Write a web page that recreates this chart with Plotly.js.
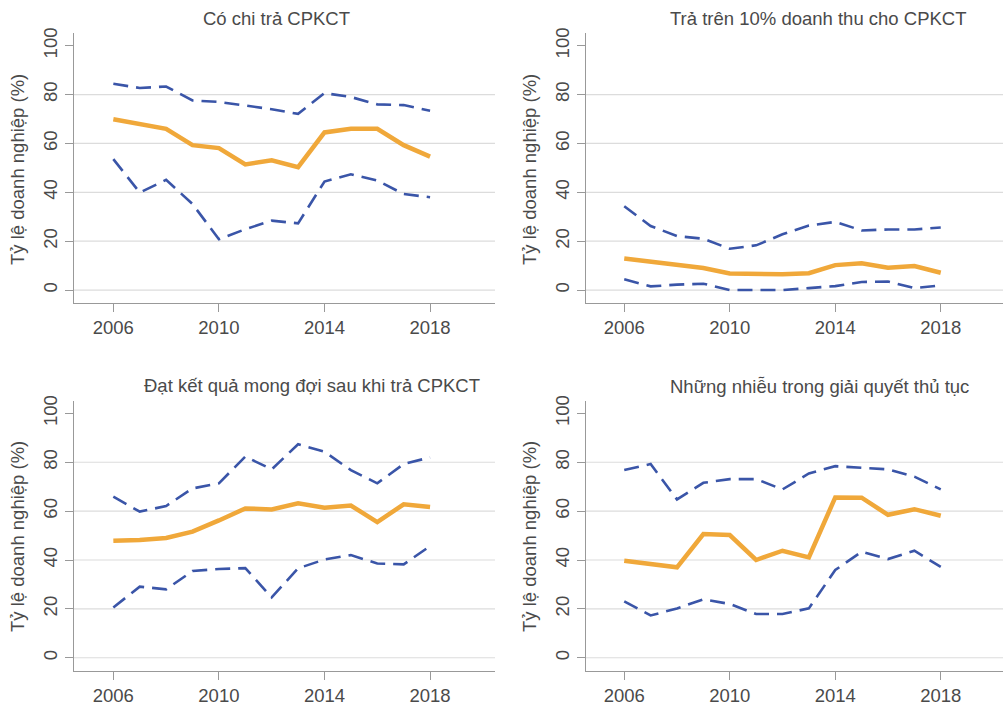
<!DOCTYPE html>
<html>
<head>
<meta charset="utf-8">
<script src="https://cdn.plot.ly/plotly-3.0.1.min.js"></script>
<style>html,body{margin:0;padding:0;background:#fff;}#chart{width:1003px;height:706px;}</style>
</head>
<body>
<div id="chart"></div>
<script>
const years = [2006,2007,2008,2009,2010,2011,2012,2013,2014,2015,2016,2017,2018];

const titles = [
  "Có chi trả CPKCT",
  "Trả trên 10% doanh thu cho CPKCT",
  "Đạt kết quả mong đợi sau khi trả CPKCT",
  "Những nhiễu trong giải quyết thủ tục"
];
const yTitle = "Tỷ lệ doanh nghiệp (%)";
const yTicks = [0,20,40,60,80,100];
const gridVals = [0,20,40,60,80];
const xTicks = [2006,2010,2014,2018];

// Panel 1: Có chi trả CPKCT
const p1Mean  = [69.9,68.0,66.0,59.3,58.1,51.4,53.1,50.3,64.5,66.0,66.0,59.3,54.6];
const p1Upper = [84.4,82.7,83.3,77.6,77.0,75.5,74.0,72.1,80.6,79.0,76.0,75.7,73.4];
const p1Lower = [53.6,39.9,45.1,35.2,20.8,24.9,28.4,27.3,44.4,47.4,44.8,39.3,38.0];

// Panel 2: Trả trên 10% doanh thu cho CPKCT
const p2Mean  = [12.9,11.6,9.9,9.0,6.8,6.7,6.5,6.9,10.2,11.0,9.1,9.8,7.1];
const p2Upper = [34.3,26.2,22.1,21.0,16.9,18.3,22.8,26.4,27.9,24.4,24.8,24.8,25.6];
const p2Lower = [4.4,1.5,2.2,2.6,0.0,0.0,0.0,0.8,1.6,3.3,3.5,0.8,1.9];

// Panel 3: Đạt kết quả mong đợi sau khi trả CPKCT
const p3Mean  = [47.9,48.2,49.0,51.6,56.2,61.1,60.7,63.2,61.4,62.3,55.5,62.8,61.7];
const p3Upper = [65.9,59.8,62.1,69.3,71.4,82.3,77.1,87.4,84.3,76.8,71.4,79.3,82.0];
const p3Lower = [20.6,29.1,28.0,35.5,36.3,36.7,24.7,36.6,40.2,42.0,38.6,38.2,45.7];

// Panel 4: Những nhiễu trong giải quyết thủ tục
const p4Mean  = [39.7,38.2,37.0,50.6,50.2,40.0,43.8,41.1,65.6,65.5,58.5,60.8,58.1];
const p4Upper = [76.8,79.3,64.8,71.6,73.1,73.1,68.9,75.4,78.4,77.8,77.1,74.1,68.9];
const p4Lower = [23.1,17.3,20.2,23.9,22.0,17.9,17.9,20.2,35.9,43.4,40.4,43.8,37.2];

const panels = [
  {mean:p1Mean, upper:p1Upper, lower:p1Lower},
  {mean:p2Mean, upper:p2Upper, lower:p2Lower},
  {mean:p3Mean, upper:p3Upper, lower:p3Lower},
  {mean:p4Mean, upper:p4Upper, lower:p4Lower}
];

const W = 1003, H = 706;
const ORANGE = "#f0a83a";
const BLUE = "#3a55a8";
const TEXT = "#4a4a4a";
const FONT = "Liberation Sans, Arial, sans-serif";
const FS = 18.5;

// layout geometry (pixels)
const geo = [
  {l:74,  r:495,  t:33,    b:303,   xr:[2004.51,2020.46], tx:276, ty:18,  ytx:17,  yty:170},
  {l:586, r:1003, t:33,    b:303,   xr:[2004.55,2020.36], tx:818, ty:18,  ytx:529, yty:170},
  {l:74,  r:495,  t:400.7, b:670.7, xr:[2004.51,2020.46], tx:312, ty:385, ytx:17,  yty:537},
  {l:586, r:1003, t:400.7, b:670.7, xr:[2004.55,2020.36], tx:819, ty:386, ytx:529, yty:537}
];
const yRange = [-5.3, 105.2];

const traces = [];
const layout = {
  width: W, height: H,
  margin: {l:0, r:0, t:0, b:0},
  paper_bgcolor: "#fff", plot_bgcolor: "#fff",
  showlegend: false,
  font: {family: FONT, size: FS, color: TEXT},
  annotations: [], shapes: []
};

panels.forEach((p, i) => {
  const g = geo[i];
  const n = i + 1;
  const xa = n === 1 ? "x" : "x" + n;
  const ya = n === 1 ? "y" : "y" + n;
  const xk = n === 1 ? "xaxis" : "xaxis" + n;
  const yk = n === 1 ? "yaxis" : "yaxis" + n;

  layout[xk] = {
    domain: [g.l / W, g.r / W], anchor: ya, range: g.xr,
    tickvals: xTicks, ticktext: xTicks.map(String),
    ticks: "outside", ticklen: 8, tickcolor: "#999", tickwidth: 1,
    showline: true, linecolor: "#999", linewidth: 1.2,
    showgrid: false, zeroline: false,
    tickfont: {family: FONT, size: FS, color: TEXT}
  };
  layout[yk] = {
    domain: [1 - g.b / H, 1 - g.t / H], anchor: xa, range: yRange,
    tickvals: yTicks, ticktext: yTicks.map(String), tickangle: -90,
    ticks: "outside", ticklen: 8, tickcolor: "#999", tickwidth: 1,
    showline: true, linecolor: "#999", linewidth: 1.2,
    showgrid: false, zeroline: false,
    tickfont: {family: FONT, size: FS, color: TEXT}
  };

  gridVals.forEach(v => {
    layout.shapes.push({
      type: "line", xref: xa + " domain", yref: ya,
      x0: 0, x1: 1, y0: v, y1: v,
      line: {color: "#dcdcdc", width: 1.2}, layer: "below"
    });
  });

  traces.push({x: years, y: p.upper, xaxis: xa, yaxis: ya, mode: "lines",
    line: {color: BLUE, width: 2.6, dash: "15px,8px"}, hoverinfo: "skip"});
  traces.push({x: years, y: p.lower, xaxis: xa, yaxis: ya, mode: "lines",
    line: {color: BLUE, width: 2.6, dash: "15px,8px"}, hoverinfo: "skip"});
  traces.push({x: years, y: p.mean, xaxis: xa, yaxis: ya, mode: "lines",
    line: {color: ORANGE, width: 4.5}, hoverinfo: "skip"});

  layout.annotations.push({
    text: titles[i], xref: "paper", yref: "paper",
    x: g.tx / W, y: 1 - g.ty / H, xanchor: "center", yanchor: "middle",
    showarrow: false, font: {family: FONT, size: FS, color: TEXT}
  });
  layout.annotations.push({
    text: yTitle, xref: "paper", yref: "paper", textangle: -90,
    x: g.ytx / W, y: 1 - g.yty / H, xanchor: "center", yanchor: "middle",
    showarrow: false, font: {family: FONT, size: FS, color: TEXT}
  });
});

Plotly.newPlot("chart", traces, layout, {staticPlot: true, displayModeBar: false});
</script>
</body>
</html>
